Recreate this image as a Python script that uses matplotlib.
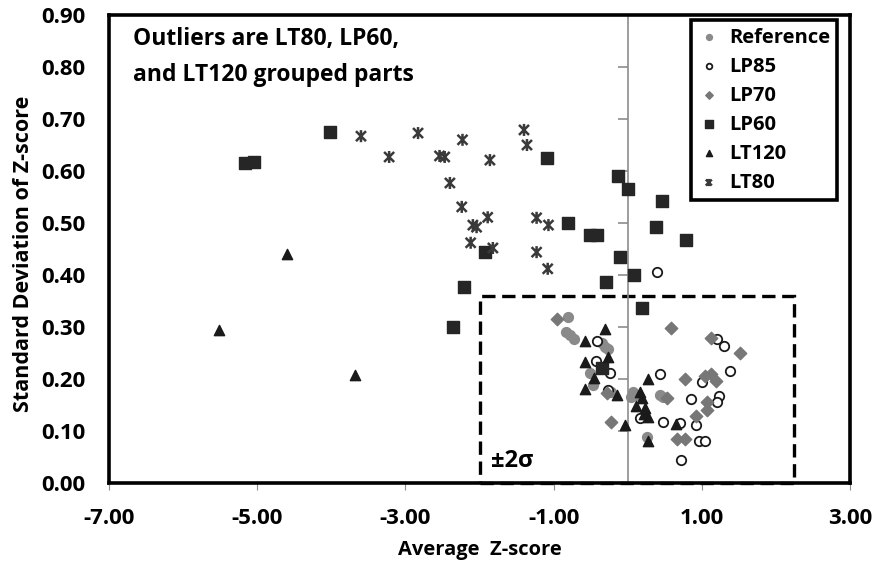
import matplotlib
matplotlib.use("Agg")
import matplotlib.pyplot as plt
from matplotlib.patches import Rectangle
from matplotlib.path import Path

plt.rcParams["font.family"] = ["Open Sans", "DejaVu Sans"]
plt.rcParams["font.weight"] = "bold"

# ---- data (average z-score, std dev of z-score) ----
ref_x = [-0.80, -0.83, -0.78, -0.73, -0.35, -0.31, -0.26, -0.51, -0.47, -0.22,
         0.07, 0.11, 0.05, 0.43, 0.47, 0.26]
ref_y = [0.319, 0.290, 0.285, 0.277, 0.269, 0.262, 0.258, 0.211, 0.188, 0.175,
         0.175, 0.169, 0.165, 0.169, 0.165, 0.088]

lp85_x = [0.40, -0.42, -0.43, -0.24, -0.27, 1.21, 1.30, 0.44, 1.00, 1.38,
          0.86, 1.23, 1.21, 0.17, 0.47, 0.70, 0.92, 0.96, 1.04, 0.72]
lp85_y = [0.406, 0.273, 0.235, 0.212, 0.179, 0.277, 0.264, 0.210, 0.194, 0.215,
          0.162, 0.167, 0.156, 0.125, 0.117, 0.115, 0.112, 0.081, 0.081, 0.044]

lp70_x = [-0.96, -0.28, -0.22, 0.59, 1.12, 1.51, 0.77, 1.04, 1.12, 1.19,
          0.53, 1.07, 1.07, 0.92, 0.67, 0.77]
lp70_y = [0.315, 0.173, 0.117, 0.298, 0.279, 0.250, 0.200, 0.206, 0.210, 0.196,
          0.163, 0.156, 0.140, 0.129, 0.085, 0.085]

lp60_x = [-5.17, -5.05, -4.02, -1.09, -0.13, 0.01, 0.46, -0.81, -0.51, -0.42,
          0.38, 0.78, -1.93, -0.10, 0.08, -0.30, -2.21, 0.19, -2.36, -0.35]
lp60_y = [0.615, 0.617, 0.675, 0.625, 0.590, 0.565, 0.542, 0.500, 0.477, 0.477,
          0.492, 0.467, 0.444, 0.435, 0.400, 0.387, 0.377, 0.337, 0.300, 0.221]

lt120_x = [-5.51, -4.60, -3.68, -0.58, -0.31, -0.58, -0.27, -0.46, -0.58, -0.15,
           -0.04, 0.28, 0.17, 0.19, 0.11, 0.23, 0.22, 0.28, 0.65, 0.27]
lt120_y = [0.294, 0.440, 0.208, 0.273, 0.296, 0.233, 0.242, 0.202, 0.181, 0.169,
           0.112, 0.200, 0.175, 0.163, 0.148, 0.144, 0.133, 0.127, 0.113, 0.081]

lt80_x = [-3.60, -2.83, -3.22, -2.23, -1.40, -1.36, -2.54, -2.47, -1.86, -2.40,
          -2.24, -2.09, -2.04, -1.89, -1.23, -1.07, -2.12, -1.82, -1.23, -1.08]
lt80_y = [0.667, 0.673, 0.627, 0.660, 0.679, 0.650, 0.629, 0.627, 0.621, 0.577,
          0.531, 0.496, 0.492, 0.511, 0.510, 0.496, 0.462, 0.452, 0.444, 0.412]

x_ticks = [-7, -5, -3, -1, 1, 3]
y_ticks = [0.0, 0.1, 0.2, 0.3, 0.4, 0.5, 0.6, 0.7, 0.8, 0.9]

# +/-2 sigma window
box_x0, box_x1, box_y1 = -2.0, 2.25, 0.36

# star marker like Excel's: x plus a vertical bar
star = Path([(-1, -1), (1, 1), (-1, 1), (1, -1), (0, -1.2), (0, 1.2)],
            [Path.MOVETO, Path.LINETO, Path.MOVETO, Path.LINETO,
             Path.MOVETO, Path.LINETO])

fig = plt.figure(figsize=(8.73, 5.69), dpi=100)
ax = fig.add_axes([0.1249, 0.1511, 0.8488, 0.8225])

ax.scatter(ref_x, ref_y, s=50, marker="o", color="#8a8a8a", label="Reference", zorder=3)
ax.scatter(lp85_x, lp85_y, s=46, marker="o", facecolor="white", edgecolor="#1a1a1a",
           linewidth=1.3, label="LP85", zorder=3)
ax.scatter(lp70_x, lp70_y, s=40, marker="D", color="#777777", label="LP70", zorder=3)
ax.scatter(lp60_x, lp60_y, s=75, marker="s", color="#262626", label="LP60", zorder=3)
ax.scatter(lt120_x, lt120_y, s=55, marker="^", color="#1a1a1a", label="LT120", zorder=3)
ax.scatter(lt80_x, lt80_y, s=75, marker=star, facecolor="none", edgecolor="#3a3a3a",
           linewidth=1.8, label="LT80", zorder=3)

ax.set_xlim(-7, 3)
ax.set_ylim(0, 0.9)

# vertical axis crosses at x = 0 (gray, ticks only)
ax.spines["left"].set_position(("data", 0))
ax.spines["left"].set_color("#8c8c8c")
ax.spines["left"].set_linewidth(1.2)
ax.set_yticks(y_ticks)
ax.tick_params(axis="y", direction="out", length=7, color="#8c8c8c", width=1.2,
               labelleft=False)
ax.set_ylabel("Standard Deviation of Z-score", fontsize=15.5, fontweight="bold")
ax.yaxis.set_label_coords(-0.101, 0.49)

for side in ["top", "right", "bottom"]:
    ax.spines[side].set_color("black")
    ax.spines[side].set_linewidth(2.6)

ax.set_xticks(x_ticks)
ax.set_xticklabels([f"{v:.2f}" for v in x_ticks], fontsize=16, fontweight="bold")
ax.tick_params(axis="x", direction="out", length=5, color="#8c8c8c", pad=13)

# labels on the left frame edge
sec = ax.secondary_yaxis("left")
sec.set_yticks(y_ticks)
sec.set_yticklabels([f"{v:.2f}" for v in y_ticks], fontsize=16, fontweight="bold")
sec.tick_params(length=0, pad=17)
sec.spines["left"].set_color("black")
sec.spines["left"].set_linewidth(2.6)

ax.set_xlabel("Average  Z-score", fontsize=14.5, fontweight="bold", labelpad=8)

ax.add_patch(Rectangle((box_x0, 0), box_x1 - box_x0, box_y1, fill=False,
                       edgecolor="black", linewidth=2.4, linestyle=(0, (4, 2)),
                       zorder=2, clip_on=False))
ax.text(-1.84, 0.042, "±2σ", fontsize=17, fontweight="bold", ha="left", va="center")

ax.text(0.033, 0.975, "Outliers are LT80, LP60,\nand LT120 grouped parts",
        transform=ax.transAxes, fontsize=16.5, fontweight="bold", ha="left",
        va="top", linespacing=1.7)

leg = ax.legend(loc="upper right", bbox_to_anchor=(0.988, 0.997), fontsize=14.5,
                markerscale=0.6, handletextpad=0.45, labelspacing=0.45,
                borderpad=0.35, fancybox=False, framealpha=1, handlelength=1.1,
                borderaxespad=0.2)
leg.get_frame().set_edgecolor("black")
leg.get_frame().set_linewidth(2.6)
for t in leg.get_texts():
    t.set_fontweight("bold")

fig.savefig("out.png", dpi=100)
